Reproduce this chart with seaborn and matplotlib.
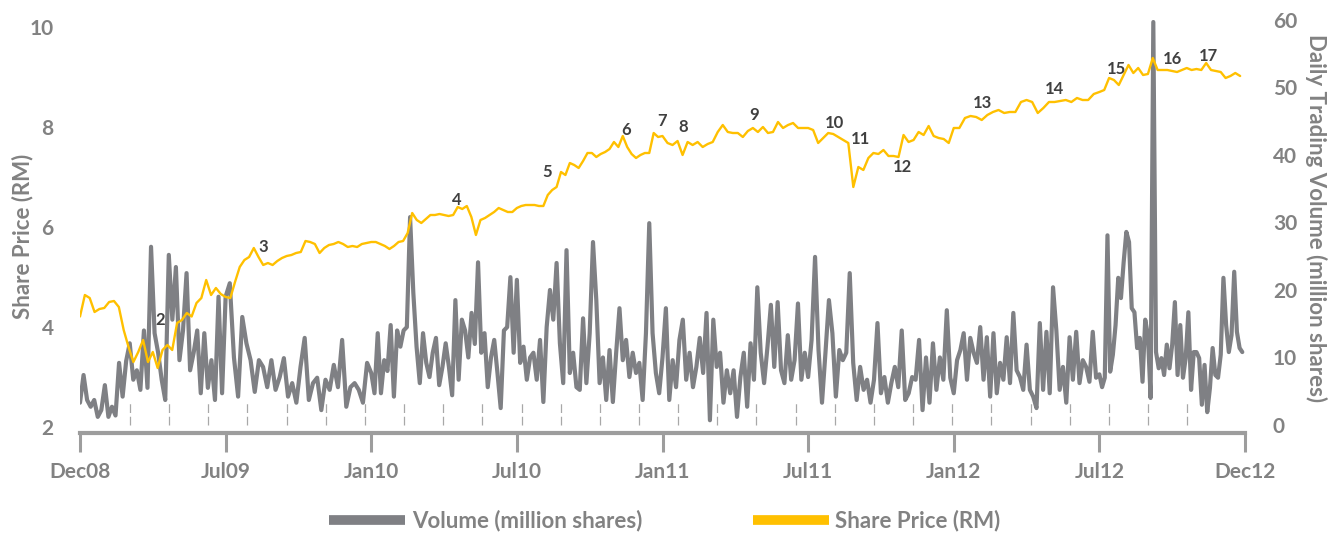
import numpy as np
import pandas as pd
import seaborn as sns
import matplotlib.pyplot as plt
from matplotlib.lines import Line2D

# x axis: evenly spaced label intervals (trading-day axis, one chunk of data per interval)
period_labels = ["Dec08", "Jul09", "Jan10", "Jul10", "Jan11", "Jul11", "Jan12", "Jul12", "Dec12"]

# daily trading volume (million shares), one list per interval
volume_dec08 = [3.3, 7.4, 3.7, 2.7, 3.7, 1.2, 2.2, 5.9, 1.2, 2.7, 1.4, 9.2, 4.2, 9.5, 12.1, 6.7, 8.1,
                5.2, 14.0, 5.5, 26.4, 13.6, 10.7, 6.7, 3.7, 25.2, 15.6, 23.4, 9.6, 14.0, 22.5, 8.1,
                10.7, 14.0, 4.7, 13.6, 5.5, 9.6, 3.7, 19.0, 4.7]
volume_jul09 = [19.0, 21.0, 10.0, 4.2, 16.0, 12.1, 9.6, 4.9, 9.6, 8.6, 5.6, 9.6, 5.2, 7.1, 9.9, 4.2,
                6.2, 3.3, 8.6, 12.9, 3.7, 6.2, 7.0, 2.2, 6.7, 5.2, 8.9, 5.6, 12.6, 2.7, 5.6, 6.2,
                5.2, 3.3, 9.2]
volume_jan10 = [7.7, 4.7, 13.6, 4.7, 9.6, 8.0, 14.8, 4.2, 14.0, 11.6, 14.0, 14.5, 30.8, 19.6, 11.6,
                6.2, 13.6, 9.2, 7.1, 10.7, 12.9, 5.9, 8.6, 12.1, 8.6, 4.4, 18.5, 6.7, 15.6, 14.0,
                10.0, 16.6, 12.0, 24.1, 10.7, 13.6, 5.6, 10.0, 12.6, 7.7, 2.5, 14.0, 14.5, 21.9, 10.7]
volume_jul10 = [21.5, 9.2, 11.6, 6.7, 10.0, 10.7, 6.7, 12.6, 3.4, 14.5, 20.0, 15.6, 24.0, 12.1, 6.2,
                25.9, 7.7, 10.7, 5.6, 5.2, 15.8, 6.2, 13.6, 27.1, 18.5, 6.2, 10.0, 3.7, 11.1, 3.4,
                10.7, 17.3, 9.6, 12.6, 7.1, 10.7, 7.7, 9.2, 3.7, 13.6, 29.9, 13.6, 7.7, 4.7]
volume_jan11 = [10.0, 17.3, 3.7, 9.6, 5.6, 12.6, 15.6, 6.7, 10.7, 5.6, 8.6, 12.9, 7.7, 16.6, 0.7,
                15.6, 8.6, 10.7, 3.3, 8.1, 4.7, 8.1, 1.2, 7.1, 10.7, 2.7, 12.1, 6.7, 20.4, 10.7,
                6.2, 11.6, 17.8, 8.6, 18.2, 8.1, 6.2, 13.3, 6.7, 9.6, 18.0, 6.7, 10.7]
volume_jul11 = [7.1, 12.6, 24.9, 11.1, 3.3, 10.7, 18.5, 13.6, 4.2, 11.1, 9.6, 10.7, 22.5, 9.2, 3.7,
                8.6, 5.2, 6.7, 3.3, 6.7, 15.1, 4.7, 7.1, 3.3, 6.2, 8.6, 5.6, 14.0, 3.7, 4.7, 7.1,
                6.7, 12.6, 2.2, 10.0, 3.3, 12.1, 5.2, 10.0, 6.7, 17.0, 7.0]
volume_jan12 = [4.7, 9.6, 11.1, 13.6, 6.7, 12.9, 10.7, 9.2, 14.5, 6.7, 13.0, 4.2, 13.6, 4.7, 9.2,
                6.7, 13.0, 6.2, 16.6, 8.1, 7.1, 5.2, 11.9, 5.2, 4.2, 2.5, 15.1, 5.2, 13.8, 4.7,
                20.4, 14.0, 5.2, 8.6, 3.3, 13.0, 6.7, 13.8, 6.2, 9.6, 8.6, 6.4, 13.8, 7.0]
volume_jul12 = [7.5, 5.6, 7.0, 28.1, 7.9, 10.4, 14.8, 21.8, 18.8, 24.1, 28.6, 27.1, 17.3, 16.7, 11.4,
                12.9, 6.4, 15.6, 13.3, 4.0, 59.7, 10.8, 8.4, 9.9, 7.4, 11.9, 8.4, 11.9, 18.2, 7.4,
                14.8, 7.0, 9.9, 16.7, 5.2, 10.8, 10.8, 9.9, 3.0, 8.9, 1.9, 5.5, 11.4, 7.4, 7.0,
                10.4, 21.8, 14.8, 10.8, 13.3, 22.7, 13.8, 11.4, 10.8]

# share price (RM)
price_dec08 = [4.21, 4.64, 4.58, 4.30, 4.36, 4.38, 4.50, 4.52, 4.40, 3.94, 3.60, 3.30, 3.50, 3.74,
               3.30, 3.50, 3.18, 3.54, 3.64, 3.54, 4.08, 4.14, 4.28, 4.21, 4.48, 4.58, 4.94, 4.64,
               4.78, 4.66]
price_jul09 = [4.60, 4.58, 4.90, 5.20, 5.34, 5.40, 5.58, 5.40, 5.24, 5.28, 5.24, 5.32, 5.38, 5.42,
               5.44, 5.48, 5.50, 5.72, 5.70, 5.66, 5.48, 5.58, 5.64, 5.66, 5.70, 5.66, 5.60, 5.62,
               5.60, 5.66, 5.68]
price_jan10 = [5.70, 5.70, 5.66, 5.62, 5.56, 5.62, 5.70, 5.72, 5.88, 6.28, 6.14, 6.08, 6.16, 6.24,
               6.24, 6.26, 6.24, 6.22, 6.24, 6.40, 6.36, 6.42, 6.20, 5.84, 6.14, 6.18, 6.24, 6.30,
               6.38, 6.34, 6.30, 6.30]
price_jul10 = [6.38, 6.42, 6.44, 6.44, 6.44, 6.42, 6.42, 6.64, 6.74, 6.80, 7.10, 7.04, 7.28, 7.24,
               7.18, 7.32, 7.48, 7.48, 7.40, 7.46, 7.50, 7.56, 7.70, 7.60, 7.82, 7.60, 7.46, 7.38,
               7.44, 7.48, 7.48, 7.88, 7.80]
price_jan11 = [7.82, 7.68, 7.64, 7.72, 7.44, 7.70, 7.64, 7.70, 7.60, 7.66, 7.70, 7.90, 8.04, 7.90,
               7.88, 7.88, 7.80, 7.92, 7.98, 7.90, 8.00, 7.88, 7.90, 8.10, 7.98, 8.04, 8.08, 7.98, 7.98]
price_jul11 = [7.98, 7.94, 7.68, 7.78, 7.88, 7.86, 7.80, 7.74, 7.68, 6.80, 7.20, 7.14, 7.38, 7.48,
               7.46, 7.54, 7.42, 7.42, 7.40, 7.84, 7.70, 7.74, 7.90, 7.84, 8.02, 7.82, 7.78, 7.76, 7.68]
price_jan12 = [7.98, 7.98, 8.18, 8.22, 8.20, 8.14, 8.24, 8.30, 8.34, 8.28, 8.30, 8.30, 8.50, 8.54,
               8.50, 8.28, 8.38, 8.50, 8.50, 8.52, 8.54, 8.50, 8.58, 8.54, 8.54, 8.66]
price_jul12 = [8.70, 8.74, 8.98, 8.94, 8.84, 9.04, 9.24, 9.08, 9.18, 9.04, 9.06, 9.38, 9.14, 9.14,
               9.14, 9.12, 9.10, 9.14, 9.18, 9.14, 9.16, 9.14, 9.28, 9.14, 9.12, 9.10, 8.98, 9.02,
               9.08, 9.02]

# numbered event markers: number, position on the x axis, share price level of the label
event_numbers = [2, 3, 4, 5, 6, 7, 8, 9, 10, 11, 12, 13, 14, 15, 16, 17]
event_pos = [0.55, 1.26, 2.59, 3.21, 3.75, 4.00, 4.14, 4.63, 5.18, 5.36, 5.65, 6.20, 6.69, 7.12, 7.50, 7.75]
event_price = [4.14, 5.60, 6.54, 7.10, 7.94, 8.12, 8.00, 8.24, 8.08, 7.76, 7.20, 8.48, 8.76, 9.16, 9.36, 9.42]

volume_chunks = [volume_dec08, volume_jul09, volume_jan10, volume_jul10,
                 volume_jan11, volume_jul11, volume_jan12, volume_jul12]
price_chunks = [price_dec08, price_jul09, price_jan10, price_jul10,
                price_jan11, price_jul11, price_jan12, price_jul12]


def to_frame(chunks, name):
    parts = []
    for i, vals in enumerate(chunks):
        pos = i + np.arange(len(vals)) / len(vals)
        parts.append(pd.DataFrame({"pos": pos, name: vals}))
    return pd.concat(parts, ignore_index=True)


vol_df = to_frame(volume_chunks, "volume")
price_df = to_frame(price_chunks, "price")

GREY = "#7f8084"
YELLOW = "#FFC000"
TEXT_GREY = "#828282"
AXIS_GREY = "#9d9d9d"

sns.set_theme(style="white")
plt.rcParams["font.family"] = ["Lato", "DejaVu Sans"]

fig = plt.figure(figsize=(13.28, 5.33), dpi=100)
ax = fig.add_axes([80 / 1328, 100 / 533, 1165 / 1328, 418 / 533])
ax2 = ax.twinx()

sns.lineplot(data=vol_df, x="pos", y="volume", ax=ax2, color=GREY, lw=3.0)
sns.lineplot(data=price_df, x="pos", y="price", ax=ax, color=YELLOW, lw=1.7)

# price line above the volume line
ax.set_zorder(ax2.get_zorder() + 1)
ax.patch.set_visible(False)

ax.set_xlim(0, 8)
ax.set_ylim(1.88, 10.24)
ax2.set_ylim(-1.19, 60.74)

ax.set_xticks(range(len(period_labels)))
ax.set_xticklabels(period_labels)
ax.set_yticks([2, 4, 6, 8, 10])
ax2.set_yticks([0, 10, 20, 30, 40, 50, 60])

for a in (ax, ax2):
    for s in ("top", "left", "right"):
        a.spines[s].set_visible(False)
ax2.spines["bottom"].set_visible(False)
ax.spines["bottom"].set_color(AXIS_GREY)
ax.spines["bottom"].set_linewidth(3)

ax.tick_params(axis="x", direction="out", length=14, width=2.2, color=AXIS_GREY,
               pad=7, labelsize=15, labelcolor=TEXT_GREY, bottom=True)
ax.tick_params(axis="y", length=0, pad=19, labelsize=15, labelcolor=TEXT_GREY)
ax2.tick_params(axis="y", length=0, pad=20, labelsize=15, labelcolor=TEXT_GREY)
for lab in ax.get_xticklabels() + ax.get_yticklabels() + ax2.get_yticklabels():
    lab.set_fontweight("bold")

# short dashed minor marks just above the axis line
minor_pos = np.arange(0.343, 7.65, 0.2689)
ax.vlines(minor_pos, 0.019, 0.072, transform=ax.get_xaxis_transform(),
          colors="#a8a8a8", linewidth=0.9, linestyles=(0, (7, 3)))

ax.set_xlabel("")
ax.set_ylabel("")
ax2.set_ylabel("")
fig.text(23 / 1328, 1 - 236 / 533, "Share Price (RM)", rotation=90, ha="center", va="center",
         fontsize=16, fontweight="bold", color=TEXT_GREY)
fig.text(1316 / 1328, 1 - 218 / 533, "Daily Trading Volume (million shares)", rotation=270,
         ha="center", va="center", fontsize=16, fontweight="bold", color=TEXT_GREY)

for n, x, y in zip(event_numbers, event_pos, event_price):
    ax.text(x, y, str(n), ha="center", va="center", fontsize=12, fontweight="bold",
            color="#404040")

handles = [Line2D([], [], color=GREY, lw=7, solid_capstyle="butt"),
           Line2D([], [], color=YELLOW, lw=7, solid_capstyle="butt")]
fig.legend(handles, ["Volume (million shares)", "Share Price (RM)"], loc="center",
           bbox_to_anchor=(665 / 1328, 1 - 521 / 533), ncol=2, frameon=False,
           handlelength=3.4, handletextpad=0.3, columnspacing=5.0,
           prop={"weight": "bold", "size": 16}, labelcolor=TEXT_GREY)

fig.savefig("out.png", dpi=100)
